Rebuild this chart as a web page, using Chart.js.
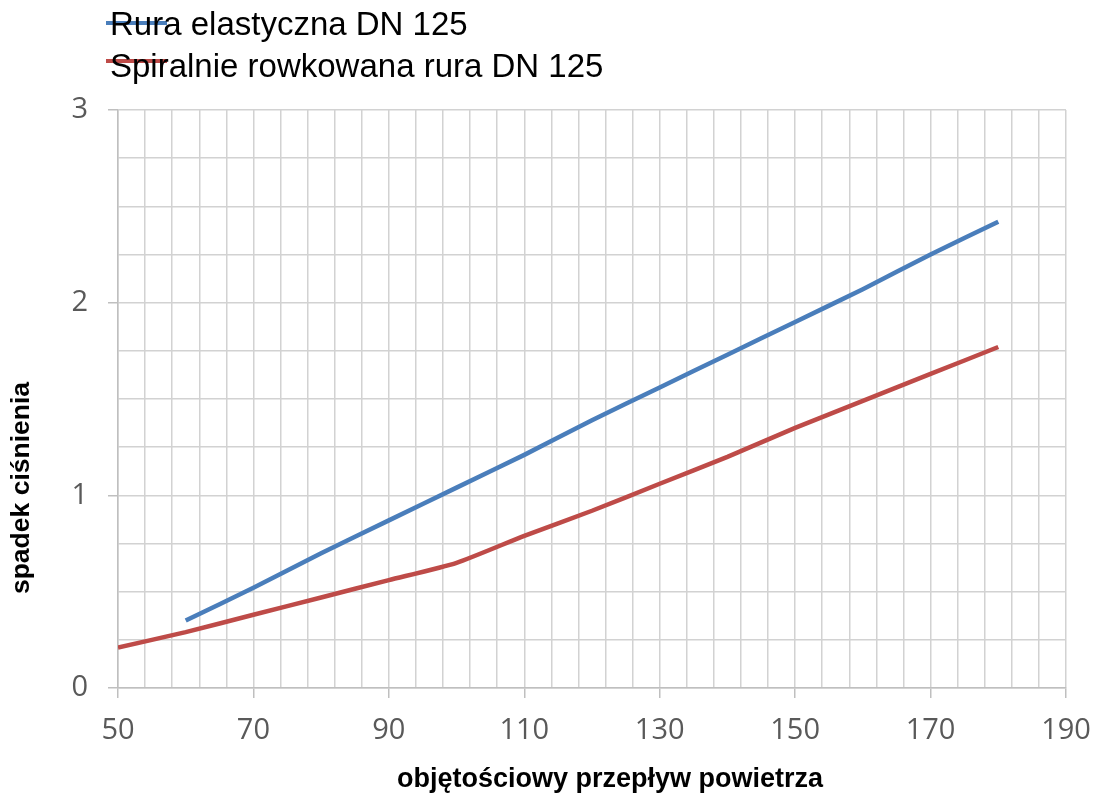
<!DOCTYPE html>
<html>
<head>
<meta charset="utf-8">
<script src="https://cdn.jsdelivr.net/npm/chart.js@4/dist/chart.umd.min.js"></script>
<style>
  html, body { margin: 0; padding: 0; background: #fff; }
  #wrap { width: 1095px; height: 795px; }
</style>
</head>
<body>
<div id="wrap"><canvas id="chart" width="1095" height="795"></canvas></div>
<script>
// values
var flow = [50, 60, 70, 80, 90, 100, 110, 120, 130, 140, 150, 160, 170, 180];
var elasticDrop = [null, 0.35, 0.52, 0.70, 0.87, 1.04, 1.21, 1.39, 1.56, 1.73, 1.90, 2.07, 2.25, 2.42];
var spiralDrop = [0.21, 0.29, 0.38, 0.47, 0.56, 0.65, 0.79, 0.92, 1.06, 1.20, 1.35, 1.49, 1.63, 1.77];

var seriesNames = ["Rura elastyczna DN 125", "Spiralnie rowkowana rura DN 125"];
var seriesColors = ["#4a7ebb", "#be4b48"];
var xLabelEvery = 20;
var xTitle = "objętościowy przepływ powietrza";
var yTitle = "spadek ciśnienia";

function toPoints(xs, ys) {
  var pts = [];
  for (var i = 0; i < xs.length; i++) {
    if (ys[i] === null) continue;
    pts.push({ x: xs[i], y: ys[i] });
  }
  return pts;
}

// legend at top left (sample line sits behind the text like in the original)
// plus the two axis titles, which are not centred on the plot in the original
var extraText = {
  id: "extraText",
  afterDraw: function (chart) {
    var c = chart.ctx;
    var sets = chart.data.datasets;
    var baselines = [35, 77];
    var lineY = [23, 61];
    c.save();
    for (var i = 0; i < sets.length; i++) {
      c.strokeStyle = sets[i].borderColor;
      c.lineWidth = 4;
      c.beginPath();
      c.moveTo(106, lineY[i]);
      c.lineTo(167, lineY[i]);
      c.stroke();
      c.fillStyle = "#000";
      c.font = "33px 'Liberation Sans', Arial, sans-serif";
      c.textBaseline = "alphabetic";
      c.textAlign = "left";
      c.fillText(sets[i].label, 110, baselines[i]);
    }

    c.fillStyle = "#000";
    c.textAlign = "center";
    c.textBaseline = "middle";
    c.font = "bold 27px 'Liberation Sans', Arial, sans-serif";
    c.fillText(xTitle, 610, 780);

    c.translate(22, 488);
    c.rotate(-Math.PI / 2);
    c.font = "bold 26.5px 'Liberation Sans', Arial, sans-serif";
    c.fillText(yTitle, 0, 0);
    c.restore();
  }
};

var gridColor = "#d2d2d2";
var tickFont = { family: "'Open Sans', sans-serif", size: 29 };

new Chart(document.getElementById("chart"), {
  type: "line",
  data: {
    datasets: [
      {
        label: seriesNames[0],
        data: toPoints(flow, elasticDrop),
        borderColor: seriesColors[0],
        backgroundColor: seriesColors[0],
        borderWidth: 4.5,
        pointRadius: 0,
        tension: 0.2
      },
      {
        label: seriesNames[1],
        data: toPoints(flow, spiralDrop),
        borderColor: seriesColors[1],
        backgroundColor: seriesColors[1],
        borderWidth: 4.5,
        pointRadius: 0,
        tension: 0.2
      }
    ]
  },
  options: {
    responsive: false,
    animation: false,
    layout: { padding: { top: 110, right: 29, left: 0, bottom: 0 } },
    plugins: {
      legend: { display: false },
      tooltip: { enabled: false }
    },
    scales: {
      x: {
        type: "linear",
        min: 50,
        max: 190,
        afterFit: function (scale) {
          scale.height = 107;
          scale.paddingLeft = 0;
          scale.paddingRight = 0;
        },
        ticks: {
          stepSize: 4,
          maxTicksLimit: 100,
          autoSkip: false,
          maxRotation: 0,
          padding: 15,
          color: "#595959",
          font: tickFont,
          callback: function (v) {
            return (v - 50) % xLabelEvery === 0 ? String(v) : "";
          }
        },
        grid: {
          color: gridColor,
          lineWidth: 1.5,
          tickLength: 10,
          tickColor: function (ctx) {
            if (!ctx.tick) return "transparent";
            return (ctx.tick.value - 50) % xLabelEvery === 0 ? "#bfbfbf" : "transparent";
          }
        },
        border: { color: "#bfbfbf", width: 1.5 }
      },
      y: {
        min: 0,
        max: 3,
        afterFit: function (scale) {
          scale.width = 118;
          scale.paddingTop = 0;
          scale.paddingBottom = 0;
        },
        ticks: {
          stepSize: 0.25,
          autoSkip: false,
          padding: 20,
          color: "#595959",
          font: tickFont,
          callback: function (v) {
            return Number.isInteger(v) ? String(v) : "";
          }
        },
        grid: {
          color: gridColor,
          lineWidth: 1.5,
          tickLength: 10,
          tickColor: function (ctx) {
            if (!ctx.tick) return "transparent";
            return Number.isInteger(ctx.tick.value) ? "#bfbfbf" : "transparent";
          }
        },
        border: { color: "#bfbfbf", width: 1.5 }
      }
    }
  },
  plugins: [extraText]
});
</script>
</body>
</html>
